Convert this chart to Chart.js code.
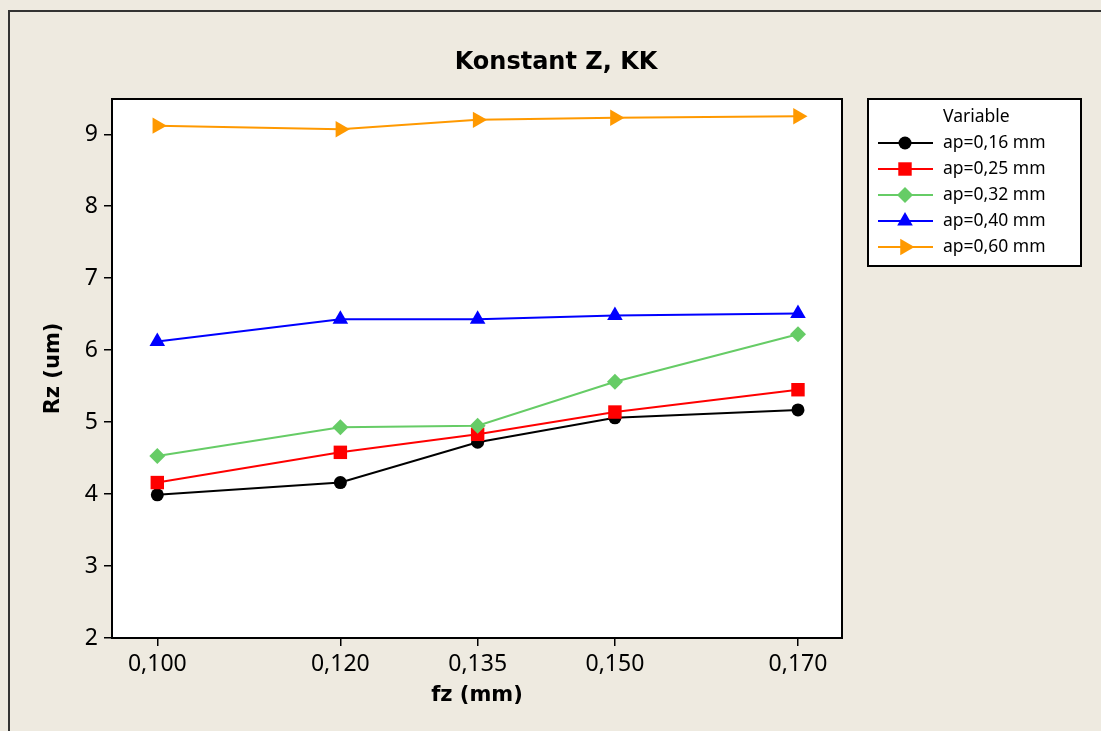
<!DOCTYPE html>
<html>
<head>
<meta charset="utf-8">
<script src="https://cdn.jsdelivr.net/npm/chart.js@4.4.1/dist/chart.umd.min.js"></script>
<style>
  html, body { margin: 0; padding: 0; background: #EEEAE0; }
  #wrap { width: 1101px; height: 731px; position: relative; }
</style>
</head>
<body>
<div id="wrap"><canvas id="rzChart" width="1101" height="731"></canvas></div>
<script>
// fz (mm) on x, Rz (um) per depth of cut
const fzValues = [0.100, 0.120, 0.135, 0.150, 0.170];
const yTicks = [2, 3, 4, 5, 6, 7, 8, 9];

const seriesLabels = ['ap=0,16 mm', 'ap=0,25 mm', 'ap=0,32 mm', 'ap=0,40 mm', 'ap=0,60 mm'];
const rz016 = [3.99, 4.16, 4.72, 5.06, 5.17];
const rz025 = [4.16, 4.58, 4.83, 5.14, 5.45];
const rz032 = [4.53, 4.93, 4.95, 5.56, 6.22];
const rz040 = [6.12, 6.43, 6.43, 6.48, 6.51];
const rz060 = [9.12, 9.07, 9.20, 9.23, 9.25];

const seriesValues = [rz016, rz025, rz032, rz040, rz060];
const seriesColors = ['#000000', '#FF0000', '#66CC66', '#0000FF', '#FF9900'];
const seriesStyles = [
    { pointStyle: 'circle', radius: 6.5, rotation: 0 },
    { pointStyle: 'rect', radius: 9.5, rotation: 0 },
    { pointStyle: 'rectRot', radius: 8, rotation: 0 },
    { pointStyle: 'triangle', radius: 9, rotation: 0 },
    { pointStyle: 'triangle', radius: 9.5, rotation: 90 }
];

const BG = '#EEEAE0';
const TICK_FONT = { family: '"Noto Sans"', size: 23 };
const AXIS_TITLE_FONT = { family: '"DejaVu Sans"', size: 21, weight: 'bold' };

const datasets = seriesValues.map((vals, i) => ({
    label: seriesLabels[i],
    data: vals.map((v, j) => ({ x: fzValues[j], y: v })),
    borderColor: seriesColors[i],
    backgroundColor: seriesColors[i],
    borderWidth: 2,
    pointStyle: seriesStyles[i].pointStyle,
    pointRadius: seriesStyles[i].radius,
    pointRotation: seriesStyles[i].rotation,
    pointBorderWidth: 0,
    tension: 0,
    order: seriesValues.length - i // later series painted on top
}));

// background, outer frame, white plot area, plot border and title
const framePlugin = {
    id: 'framePlugin',
    beforeDraw(chart) {
        const { ctx, chartArea: a } = chart;
        ctx.save();
        ctx.fillStyle = BG;
        ctx.fillRect(0, 0, chart.width, chart.height);
        ctx.strokeStyle = '#333333';
        ctx.lineWidth = 2;
        ctx.strokeRect(9, 11, chart.width + 20, chart.height + 20);
        ctx.fillStyle = '#FFFFFF';
        ctx.fillRect(a.left, a.top, a.right - a.left, a.bottom - a.top);
        ctx.restore();
    },
    afterDraw(chart) {
        const { ctx, chartArea: a } = chart;
        ctx.save();
        ctx.strokeStyle = '#000000';
        ctx.lineWidth = 2;
        ctx.strokeRect(a.left, a.top, a.right - a.left, a.bottom - a.top);

        ctx.fillStyle = '#000000';
        ctx.font = 'bold 24px "DejaVu Sans"';
        ctx.textAlign = 'center';
        ctx.textBaseline = 'alphabetic';
        ctx.fillText('Konstant Z, KK', 556, 69);
        ctx.restore();
    }
};

// boxed legend with line + marker samples
const boxLegend = {
    id: 'boxLegend',
    afterDraw(chart) {
        const { ctx } = chart;
        const box = { x: 868, y: 99, w: 213, h: 167 };
        ctx.save();
        ctx.fillStyle = '#FFFFFF';
        ctx.fillRect(box.x, box.y, box.w, box.h);
        ctx.strokeStyle = '#000000';
        ctx.lineWidth = 2;
        ctx.strokeRect(box.x, box.y, box.w, box.h);

        ctx.font = '17.5px "Noto Sans"';
        ctx.textAlign = 'left';
        ctx.textBaseline = 'middle';
        ctx.fillStyle = '#000000';
        ctx.fillText('Variable', 943, 117);

        chart.data.datasets.forEach((ds, i) => {
            const y = 143 + i * 26;
            ctx.strokeStyle = ds.borderColor;
            ctx.lineWidth = 2;
            ctx.beginPath();
            ctx.moveTo(878, y);
            ctx.lineTo(933, y);
            ctx.stroke();
            ctx.fillStyle = ds.backgroundColor;
            Chart.helpers.drawPoint(ctx, {
                pointStyle: ds.pointStyle,
                radius: ds.pointRadius,
                rotation: ds.pointRotation,
                borderWidth: 0
            }, 905, y);
            ctx.fillStyle = '#000000';
            ctx.fillText(ds.label, 943, y);
        });
        ctx.restore();
    }
};

new Chart(document.getElementById('rzChart'), {
    type: 'line',
    data: { datasets: datasets },
    plugins: [framePlugin, boxLegend],
    options: {
        responsive: false,
        animation: false,
        layout: { padding: { left: 0, top: 99, right: 259, bottom: 0 } },
        plugins: {
            legend: { display: false },
            tooltip: { enabled: false },
            title: { display: false }
        },
        scales: {
            x: {
                type: 'linear',
                min: 0.09505,
                max: 0.17481,
                afterBuildTicks: (scale) => { scale.ticks = fzValues.map(v => ({ value: v })); },
                afterFit: (scale) => { scale.height = 93; },
                ticks: {
                    color: '#000000',
                    font: TICK_FONT,
                    padding: 5,
                    maxRotation: 0,
                    callback: (v) => v.toFixed(3).replace('.', ',')
                },
                grid: { drawOnChartArea: false, drawTicks: true, tickLength: 8, color: '#000000', lineWidth: 1.5 },
                border: { display: false },
                title: { display: true, text: 'fz (mm)', color: '#000000', font: AXIS_TITLE_FONT, padding: { top: 0, bottom: 23 } }
            },
            y: {
                min: 2,
                max: 9.49,
                afterBuildTicks: (scale) => { scale.ticks = yTicks.map(v => ({ value: v })); },
                afterFit: (scale) => { scale.width = 112; },
                ticks: { color: '#000000', font: TICK_FONT, padding: 6 },
                grid: { drawOnChartArea: false, drawTicks: true, tickLength: 8, color: '#000000', lineWidth: 1.5 },
                border: { display: false },
                title: { display: true, text: 'Rz (um)', color: '#000000', font: AXIS_TITLE_FONT, padding: { top: 41, bottom: 0 } }
            }
        }
    }
});
</script>
</body>
</html>
